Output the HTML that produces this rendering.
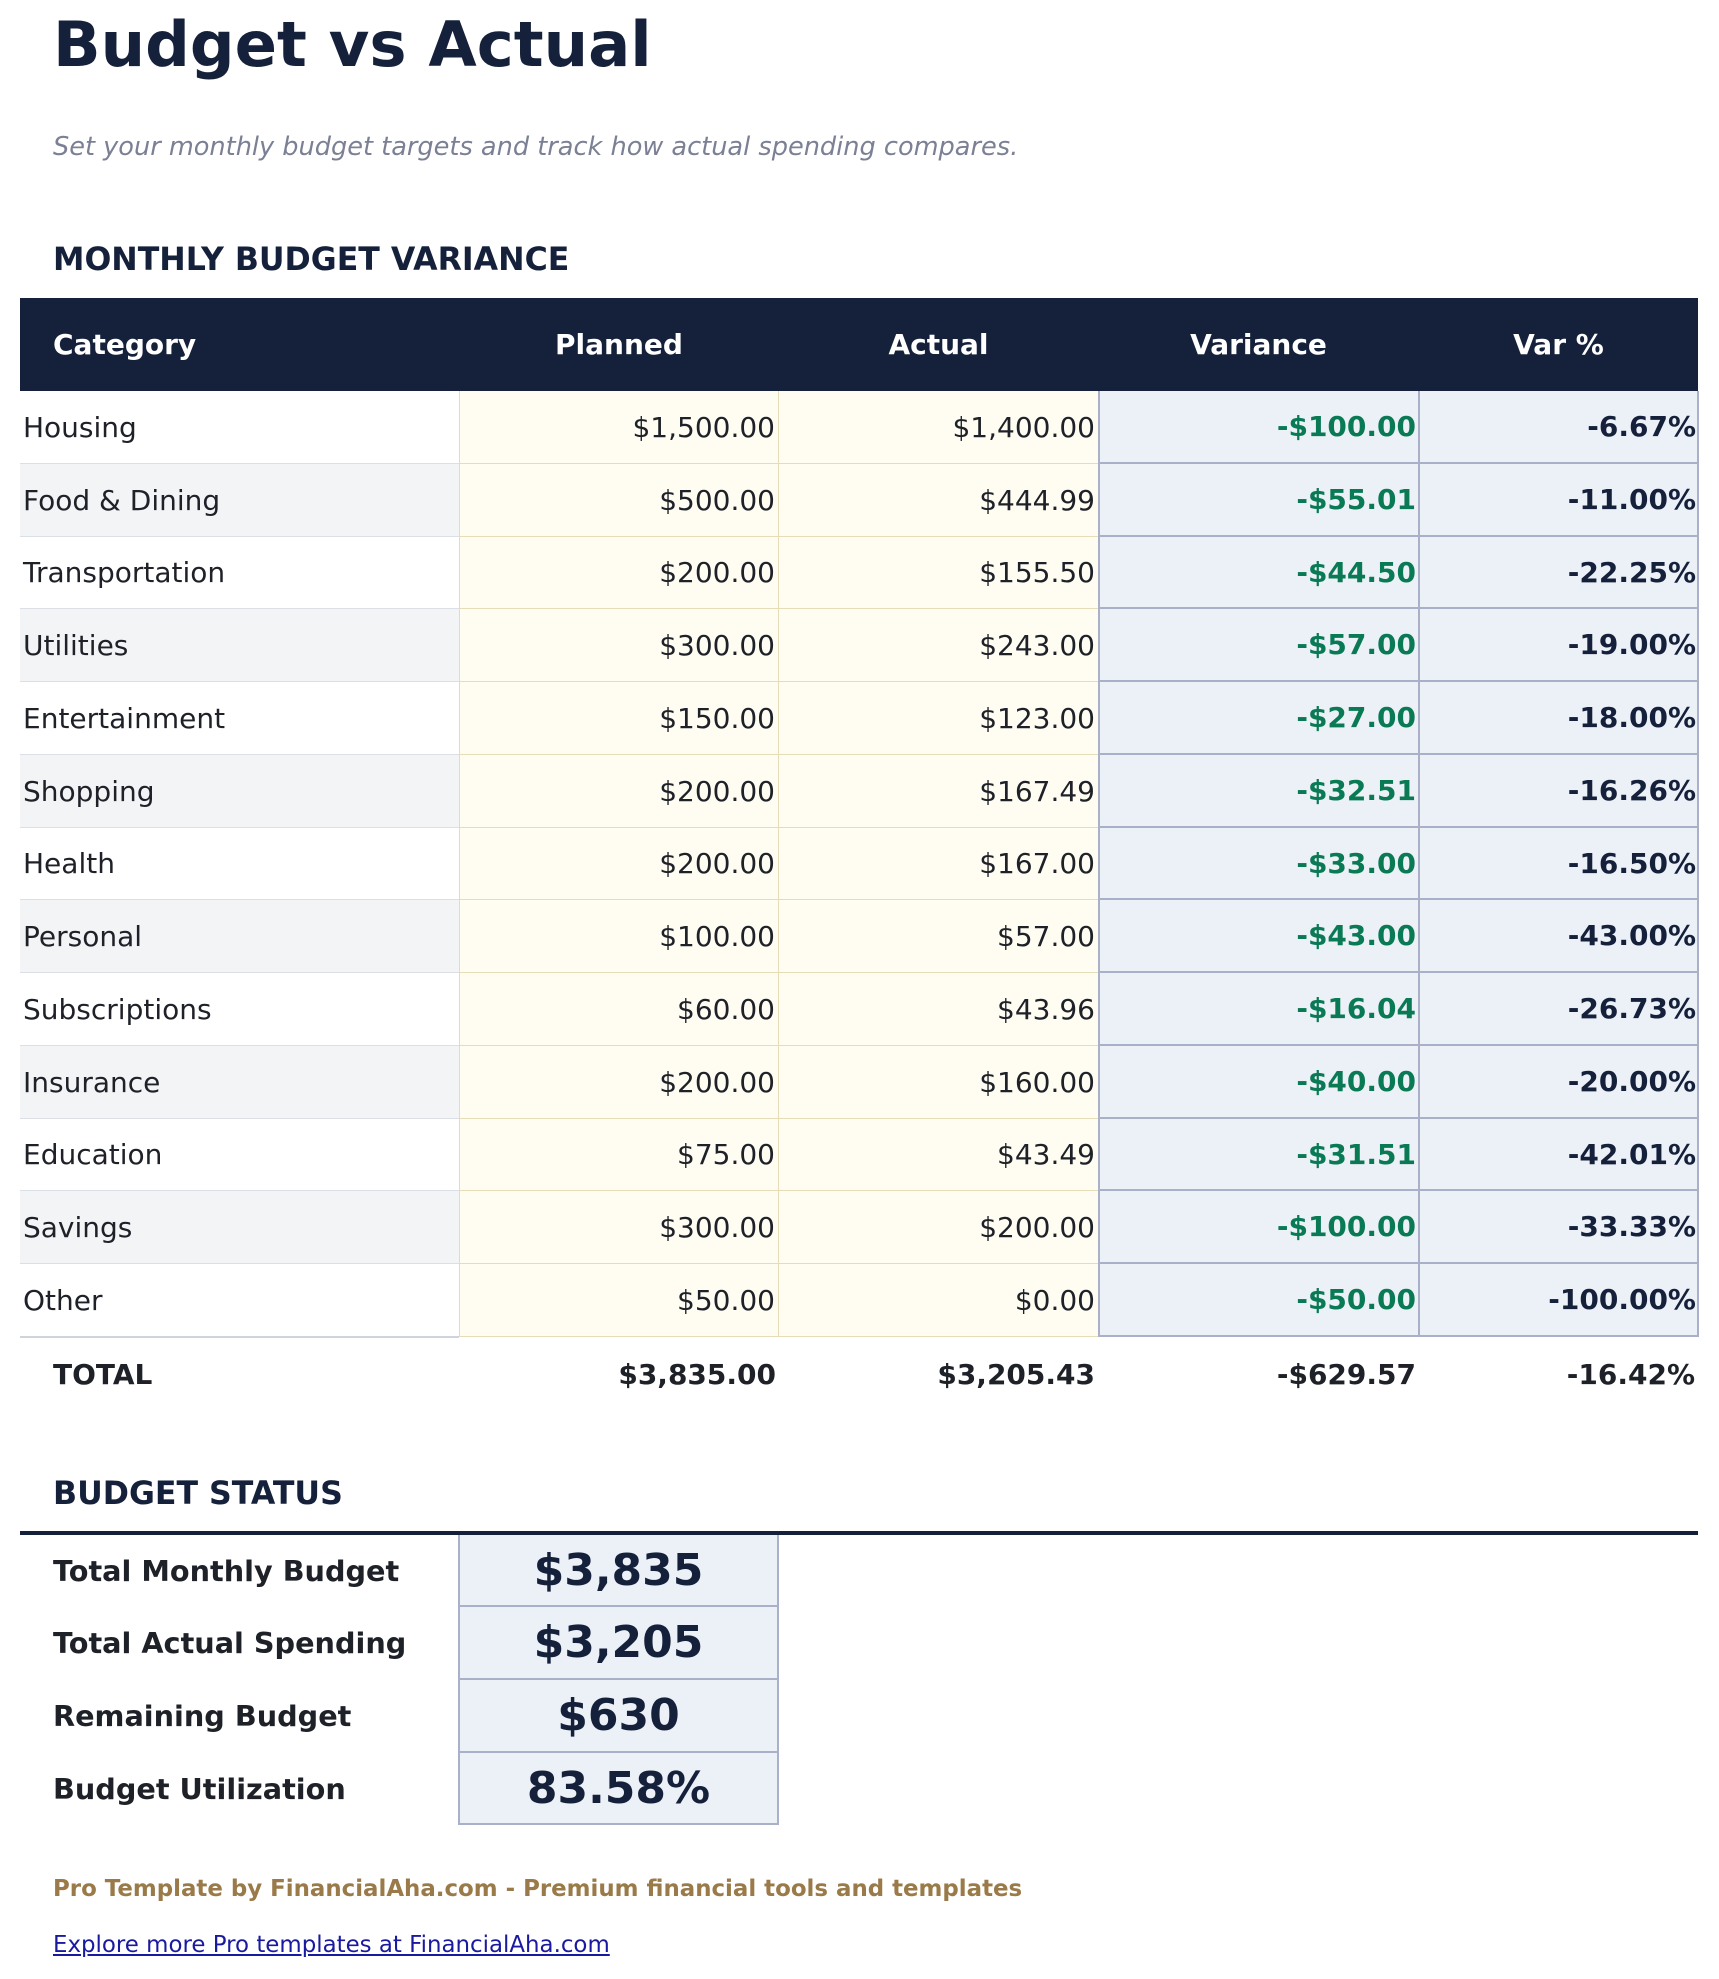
<!DOCTYPE html>
<html><head><meta charset="utf-8"><style>
*{margin:0;padding:0;box-sizing:border-box}
body{width:1719px;height:1979px;background:#fff;position:relative;font-family:"DejaVu Sans","Liberation Sans",sans-serif;color:#15213b;overflow:hidden}
.a{position:absolute}
.c{position:absolute;display:flex;align-items:center;white-space:nowrap;font-size:28px;color:#1e2128}
.r{justify-content:flex-end;padding-right:3px}
.g{color:#0a7a55!important;font-weight:bold}
.b{font-weight:bold}
.n{color:#15213b}
</style></head><body>
<div class="a" style="left:53px;top:5px;font-size:62.5px;font-weight:bold;line-height:80px">Budget vs Actual</div>
<div class="a" style="left:53px;top:132px;font-size:25.6px;font-style:italic;color:#7b8094;line-height:30px;white-space:nowrap">Set your monthly budget targets and track how actual spending compares.</div>
<div class="a" style="left:53px;top:242px;font-size:31.6px;font-weight:bold;line-height:36px;white-space:nowrap">MONTHLY BUDGET VARIANCE</div>
<div class="a" style="left:20px;top:298px;width:1678px;height:93px;background:#15213b"></div>
<div class="c b" style="left:53px;top:298px;height:93px;color:#fff">Category</div>
<div class="c b" style="left:459px;top:298px;width:320px;height:93px;color:#fff;justify-content:center">Planned</div>
<div class="c b" style="left:779px;top:298px;width:319px;height:93px;color:#fff;justify-content:center">Actual</div>
<div class="c b" style="left:1098px;top:298px;width:321px;height:93px;color:#fff;justify-content:center">Variance</div>
<div class="c b" style="left:1419px;top:298px;width:279px;height:93px;color:#fff;justify-content:center">Var %</div>
<div id="rows"></div>
<script>
var d=[["Housing","$1,500.00","$1,400.00","-$100.00","-6.67%"],["Food &amp; Dining","$500.00","$444.99","-$55.01","-11.00%"],["Transportation","$200.00","$155.50","-$44.50","-22.25%"],["Utilities","$300.00","$243.00","-$57.00","-19.00%"],["Entertainment","$150.00","$123.00","-$27.00","-18.00%"],["Shopping","$200.00","$167.49","-$32.51","-16.26%"],["Health","$200.00","$167.00","-$33.00","-16.50%"],["Personal","$100.00","$57.00","-$43.00","-43.00%"],["Subscriptions","$60.00","$43.96","-$16.04","-26.73%"],["Insurance","$200.00","$160.00","-$40.00","-20.00%"],["Education","$75.00","$43.49","-$31.51","-42.01%"],["Savings","$300.00","$200.00","-$100.00","-33.33%"],["Other","$50.00","$0.00","-$50.00","-100.00%"]];
var h="";
for(var i=0;i<13;i++){var t=Math.round(391+i*72.77),b=Math.round(391+(i+1)*72.77),H=b-t;
h+='<div class="c" style="left:20px;top:'+t+'px;width:439px;height:'+H+'px;padding-left:3px;background:'+(i%2?'#f3f4f6':'#fff')+';border-bottom:1px solid #dcdfe5">'+d[i][0]+'</div>';
h+='<div class="c r" style="left:459px;top:'+t+'px;width:320px;height:'+H+'px;background:#fffcf2;border:1px solid #e6dcb8;border-top:none">'+d[i][1]+'</div>';
h+='<div class="c r" style="left:778px;top:'+t+'px;width:321px;height:'+H+'px;background:#fffcf2;border:1px solid #e6dcb8;border-top:none">'+d[i][2]+'</div>';
h+='<div class="c r g" style="left:1098px;top:'+t+'px;width:322px;height:'+H+'px;background:#ecf0f7;border:2px solid #a9b0c8;border-top:none;padding-right:2px">'+d[i][3]+'</div>';
h+='<div class="c r b n" style="left:1418px;top:'+t+'px;width:281px;height:'+H+'px;background:#ecf0f7;border:2px solid #a9b0c8;border-top:none;padding-right:1px">'+d[i][4]+'</div>';}
document.getElementById("rows").innerHTML=h;
</script>
<div class="a" style="left:20px;top:1336px;width:439px;height:2px;background:#cfd3dc"></div>
<div class="c b" style="left:53px;top:1338px;height:72px">TOTAL</div>
<div class="c r b" style="left:459px;top:1338px;width:320px;height:72px">$3,835.00</div>
<div class="c r b" style="left:779px;top:1338px;width:319px;height:72px">$3,205.43</div>
<div class="c r b" style="left:1098px;top:1338px;width:321px;height:72px">-$629.57</div>
<div class="c r b" style="left:1419px;top:1338px;width:279px;height:72px">-16.42%</div>
<div class="a" style="left:53px;top:1476px;font-size:31.6px;font-weight:bold;line-height:36px;white-space:nowrap">BUDGET STATUS</div>
<div class="a" style="left:20px;top:1531px;width:1678px;height:4px;background:#15213b"></div>
<div class="a" style="left:458px;top:1535px;width:321px;height:290px;background:#ecf0f7;border:2px solid #a9b0c8;border-top:none"></div>
<div class="a" style="left:458px;top:1605px;width:321px;height:2px;background:#a9b0c8"></div>
<div class="a" style="left:458px;top:1678px;width:321px;height:2px;background:#a9b0c8"></div>
<div class="a" style="left:458px;top:1751px;width:321px;height:2px;background:#a9b0c8"></div>
<div class="c b" style="left:53px;top:1535px;height:71px;font-size:28.7px">Total Monthly Budget</div>
<div class="c b" style="left:53px;top:1606px;height:73px;font-size:28.7px">Total Actual Spending</div>
<div class="c b" style="left:53px;top:1679px;height:73px;font-size:28.7px">Remaining Budget</div>
<div class="c b" style="left:53px;top:1752px;height:73px;font-size:28.7px">Budget Utilization</div>
<div class="c b n" style="left:458px;top:1535px;width:321px;height:71px;justify-content:center;font-size:44px">$3,835</div>
<div class="c b n" style="left:458px;top:1606px;width:321px;height:73px;justify-content:center;font-size:44px">$3,205</div>
<div class="c b n" style="left:458px;top:1679px;width:321px;height:73px;justify-content:center;font-size:44px">$630</div>
<div class="c b n" style="left:458px;top:1752px;width:321px;height:73px;justify-content:center;font-size:44px">83.58%</div>
<div class="a" style="left:53px;top:1875px;font-size:22.9px;font-weight:bold;color:#9a7a48;line-height:28px;white-space:nowrap">Pro Template by FinancialAha.com - Premium financial tools and templates</div>
<div class="a" style="left:53px;top:1931px;font-size:22.9px;color:#1a1aa0;text-decoration:underline;line-height:28px;white-space:nowrap">Explore more Pro templates at FinancialAha.com</div>
</body></html>
